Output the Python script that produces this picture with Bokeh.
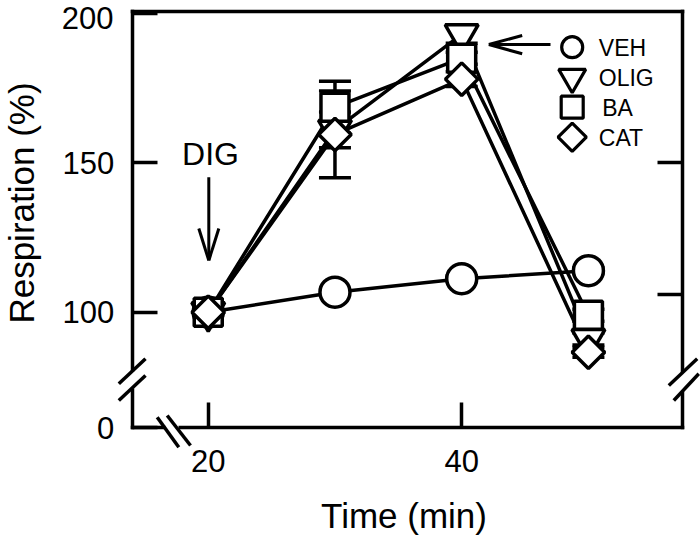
import numpy as np
from bokeh.plotting import figure
from bokeh.models import (Range1d, FixedTicker, LinearAxis, Label, Arrow, Whisker,
                          TeeHead, ColumnDataSource, CustomJSTickFormatter)
from bokeh.embed import file_html
from bokeh.resources import INLINE

# ---------------- data ----------------
TIME = [20, 30, 40, 50]
VEH = [100, 106.7, 111.2, 113.9]
OLIG = [100, 161, 193, 91]
BA = [100, 168.6, 185, 99]
CAT = [100, 159.5, 178, 86.6]
VEH_ERR = [0, 1, 1, 1]
OLIG_ERR = [0, 6, 3, 2]
BA_ERR = [0, 8.7, 2, 2]
CAT_ERR = [0, 14.5, 2.5, 1.7]
SERIES = ["VEH", "OLIG", "BA", "CAT"]

X_TICKS = [20, 40]
Y_ZERO = 61.25                      # where the broken y axis shows "0"
Y_TICKS = [Y_ZERO, 100, 150, 200]
Y_TICK_LABELS = ["0", "100", "150", "200"]
RIGHT_TICKS = [150, 106]
X_LABEL = "Time (min)"
Y_LABEL = "Respiration (%)"
ANNOT = "DIG"

# ---------------- layout ----------------
W, H = 700, 539
X_LO, X_HI = 14.0, 57.4             # extent of the drawn axes (data units)
Y_TOP = 200.47
AX_L, AX_R = 131.7, 681.7           # pixel positions of the axes
PX_X = (AX_R - AX_L) / (X_HI - X_LO)
PX_Y = 2.988
Y100_PX = 311.7
FONT = "Liberation Sans"
LW = 3.5


def d(xp, yp):
    """pixel position on the canvas -> data coordinates (for decorations)"""
    return X_LO + (xp - AX_L) / PX_X, 100 + (Y100_PX - yp) / PX_Y


x0, y1 = d(0, 0)
x1, y0 = d(W, H)

p = figure(width=W, height=H, output_backend="svg", toolbar_location=None,
           x_range=Range1d(x0, x1), y_range=Range1d(y0, y1),
           min_border=0, min_border_left=0, min_border_right=0,
           min_border_top=0, min_border_bottom=0,
           background_fill_color="white", border_fill_color="white")
p.grid.visible = False
p.outline_line_color = None
p.xaxis.visible = False
p.yaxis.visible = False


def style(ax):
    ax.axis_line_width = LW
    ax.axis_line_cap = "square"
    ax.major_tick_line_width = LW
    ax.major_tick_in = 25
    ax.major_tick_out = 0
    ax.minor_tick_line_color = None
    ax.major_label_text_font = FONT
    ax.major_label_text_font_size = "31px"
    ax.major_label_text_color = "black"


xb = LinearAxis(ticker=FixedTicker(ticks=X_TICKS), fixed_location=Y_ZERO,
                bounds=(X_LO, X_HI), major_label_standoff=22)
style(xb)
p.add_layout(xb, "below")

overrides = {t: s for t, s in zip(Y_TICKS, Y_TICK_LABELS)}
overrides[200] = ""                 # drawn a little lower so it is not cut at the top edge
yl = LinearAxis(ticker=FixedTicker(ticks=Y_TICKS), fixed_location=X_LO,
                bounds=(Y_ZERO, Y_TOP), major_label_standoff=18,
                major_label_overrides=overrides)
style(yl)
p.add_layout(yl, "left")

yr = LinearAxis(ticker=FixedTicker(ticks=RIGHT_TICKS), fixed_location=X_HI,
                bounds=(Y_ZERO, Y_TOP), major_label_standoff=0,
                formatter=CustomJSTickFormatter(code="return ''"))
style(yr)
p.add_layout(yr, "right")

xt = LinearAxis(ticker=FixedTicker(ticks=[]), fixed_location=Y_TOP,
                bounds=(X_LO, X_HI), major_label_standoff=0,
                formatter=CustomJSTickFormatter(code="return ''"))
style(xt)
p.add_layout(xt, "above")

tx, ty = d(113, 17.5)
p.add_layout(Label(x=tx, y=ty, text=Y_TICK_LABELS[-1], text_align="right",
                   text_baseline="middle", text_font=FONT, text_font_size="31px",
                   text_color="black"))

# axis titles
lx, ly = d(21, 202.5)
p.add_layout(Label(x=lx, y=ly, text=Y_LABEL, angle=np.pi / 2, text_align="center",
                   text_baseline="middle", text_font=FONT, text_font_size="35px",
                   text_color="black"))
lx, ly = d(403.5, 514.5)
p.add_layout(Label(x=lx, y=ly, text=X_LABEL, text_align="center",
                   text_baseline="middle", text_font=FONT, text_font_size="35px",
                   text_color="black"))

# ---------------- error bars ----------------
eb_t, eb_up, eb_lo = [], [], []
for vals, errs in ((VEH, VEH_ERR), (OLIG, OLIG_ERR), (BA, BA_ERR), (CAT, CAT_ERR)):
    for t, v, e in zip(TIME, vals, errs):
        if e > 0:
            eb_t.append(t)
            eb_up.append(v + e)
            eb_lo.append(v - e)
esrc = ColumnDataSource(dict(t=eb_t, up=eb_up, lo=eb_lo))
p.add_layout(Whisker(source=esrc, base="t", upper="up", lower="lo", level="underlay",
                     line_width=LW, line_color="black",
                     upper_head=TeeHead(size=32, line_width=LW, line_color="black"),
                     lower_head=TeeHead(size=32, line_width=LW, line_color="black")))

# ---------------- lines and markers ----------------
for vals in (VEH, OLIG, BA, CAT):
    p.line(TIME, vals, line_color="black", line_width=LW)

p.scatter(TIME, VEH, marker="circle", size=30, fill_color="white",
          line_color="black", line_width=LW)
p.scatter(TIME, OLIG, marker="inverted_triangle", size=33, fill_color="white",
          line_color="black", line_width=LW)
p.scatter(TIME, BA, marker="square", size=28, fill_color="white",
          line_color="black", line_width=LW)
p.scatter(TIME, CAT, marker="square", angle=np.pi / 4, size=23, fill_color="white",
          line_color="black", line_width=LW)

# ---------------- legend (drawn by hand) ----------------
leg_markers = [("circle", 21, 0.0), ("inverted_triangle", 27, 0.0),
               ("square", 22, 0.0), ("square", 20, np.pi / 4)]
leg_y = [46.7, 76.7, 106.7, 136.7]
leg_tx = [598.3, 598.3, 601.7, 598.3]
for (mk, sz, ang), yp, tx, name in zip(leg_markers, leg_y, leg_tx, SERIES):
    mx, my = d(571.7, yp)
    p.scatter([mx], [my], marker=mk, size=sz, angle=ang, fill_color="white",
              line_color="black", line_width=3.2)
    txd, tyd = d(tx, yp + 1)
    p.add_layout(Label(x=txd, y=tyd, text=name, text_align="left",
                       text_baseline="middle", text_font=FONT,
                       text_font_size="23px", text_color="black"))


def seg(a, b, color="black", width=LW):
    (xa, ya), (xe, ye) = d(*a), d(*b)
    p.add_layout(Arrow(end=None, x_start=xa, y_start=ya, x_end=xe, y_end=ye,
                       line_color=color, line_width=width))


# legend arrow
seg((550, 44), (489, 44), width=3)
seg((521.7, 35), (488.3, 44), width=3)
seg((521.7, 53.3), (488.3, 44), width=3)

# DIG annotation
gx, gy = d(210, 153.3)
p.add_layout(Label(x=gx, y=gy, text=ANNOT, text_align="center", text_baseline="middle",
                   text_font=FONT, text_font_size="32px", text_color="black"))
seg((208.3, 176.7), (208.3, 259), width=3)
seg((198.3, 228), (208.3, 260), width=3)
seg((218.3, 228), (208.3, 260), width=3)

# ---------------- axis breaks ----------------
seg((131.7, 371), (131.7, 388), color="white", width=8)
seg((118.3, 383.3), (145, 358.3))
seg((118.3, 400), (145, 375))

seg((165, 427.5), (178, 427.5), color="white", width=8)
seg((156.7, 416.7), (178.3, 446.7))
seg((166.7, 415), (190, 445))

seg((681.7, 372.5), (681.7, 391), color="white", width=8)
seg((668.3, 385), (696.7, 358.3))
seg((673.3, 400), (698.3, 373.3))

open("out.html", "w").write(file_html(p, INLINE))
